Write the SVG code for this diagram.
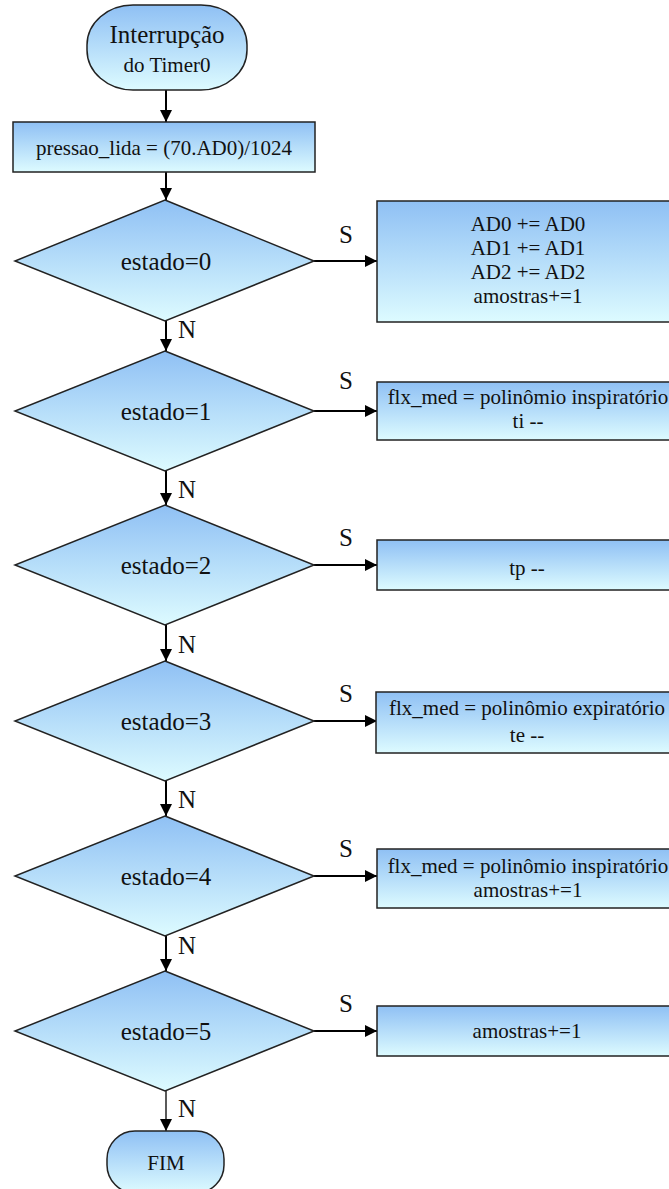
<svg xmlns="http://www.w3.org/2000/svg" width="669" height="1189" viewBox="0 0 669 1189">
  <style>
    .shape { stroke: #222; stroke-width: 1.5; fill: url(#fillGrad); }
    text { font-family: "Liberation Serif", "Times New Roman", Times, serif; fill: #111; }
    .big { font-size: 25px; }
    .small { font-size: 21px; }
    .wire { stroke: #000; stroke-width: 2; fill: none; marker-end: url(#arrow); }
  </style>
  <defs>
    <linearGradient id="fillGrad" x1="0" y1="0" x2="0" y2="1">
      <stop offset="0" stop-color="#8fc0f4"/>
      <stop offset="1" stop-color="#ddfbff"/>
    </linearGradient>
    <marker id="arrow" markerUnits="userSpaceOnUse" markerWidth="12" markerHeight="12" viewBox="0 0 12 12" refX="12" refY="6" orient="auto">
      <path d="M0,0 L12,6 L0,12 Z" fill="#000"/>
    </marker>
  </defs>

  <!-- flow connectors -->
  <g id="connectors">
    <line class="wire" x1="166" y1="90" x2="166" y2="122"/>
    <line class="wire" x1="166" y1="172" x2="166" y2="200"/>
    <line class="wire" x1="166" y1="321" x2="166" y2="351"/>
    <line class="wire" x1="166" y1="471" x2="166" y2="505"/>
    <line class="wire" x1="166" y1="625" x2="166" y2="661"/>
    <line class="wire" x1="166" y1="781" x2="166" y2="816"/>
    <line class="wire" x1="166" y1="936" x2="166" y2="971"/>
    <line class="wire" x1="166" y1="1091" x2="166" y2="1131" style="stroke-width:1.3"/>

    <line class="wire" x1="314" y1="261" x2="377" y2="261"/>
    <line class="wire" x1="314" y1="411" x2="377" y2="411"/>
    <line class="wire" x1="314" y1="565" x2="377" y2="565"/>
    <line class="wire" x1="314" y1="721" x2="377" y2="721"/>
    <line class="wire" x1="314" y1="876" x2="377" y2="876"/>
    <line class="wire" x1="314" y1="1031" x2="377" y2="1031"/>

    <g class="big">
      <text x="339" y="243">S</text>
      <text x="339" y="389">S</text>
      <text x="339" y="546">S</text>
      <text x="339" y="702">S</text>
      <text x="339" y="857">S</text>
      <text x="339" y="1012">S</text>

      <text x="178" y="338">N</text>
      <text x="178" y="498">N</text>
      <text x="178" y="653">N</text>
      <text x="178" y="808">N</text>
      <text x="178" y="954">N</text>
      <text x="178" y="1117">N</text>
    </g>
  </g>

  <g text-anchor="middle">
    <g id="start">
      <rect class="shape" x="87" y="5" width="160" height="85" rx="46" ry="40"/>
      <text class="big" x="167" y="43">Interrupção</text>
      <text class="small" x="167" y="72">do Timer0</text>
    </g>

    <g id="read-pressure">
      <rect class="shape" x="13" y="122" width="302" height="50"/>
      <text class="small" x="164" y="155">pressao_lida = (70.AD0)/1024</text>
    </g>

    <g id="dec0">
      <polygon class="shape" points="165,200 314,261 165,321 15,261"/>
      <text class="big" x="166" y="270">estado=0</text>
    </g>
    <g id="act0">
      <rect class="shape" x="377" y="201" width="302" height="121"/>
      <text class="small" x="528" y="231">AD0 += AD0</text>
      <text class="small" x="528" y="255">AD1 += AD1</text>
      <text class="small" x="528" y="279">AD2 += AD2</text>
      <text class="small" x="528" y="303">amostras+=1</text>
    </g>

    <g id="dec1">
      <polygon class="shape" points="165,351 314,411 165,471 15,411"/>
      <text class="big" x="166" y="420">estado=1</text>
    </g>
    <g id="act1">
      <rect class="shape" x="377" y="382" width="302" height="58"/>
      <text class="small" x="528" y="404">flx_med = polinômio inspiratório</text>
      <text class="small" x="528" y="428">ti --</text>
    </g>

    <g id="dec2">
      <polygon class="shape" points="165,505 314,565 165,625 15,565"/>
      <text class="big" x="166" y="574">estado=2</text>
    </g>
    <g id="act2">
      <rect class="shape" x="377" y="540" width="302" height="50"/>
      <text class="small" x="527" y="575">tp --</text>
    </g>

    <g id="dec3">
      <polygon class="shape" points="165,661 314,721 165,781 15,721"/>
      <text class="big" x="166" y="730">estado=3</text>
    </g>
    <g id="act3">
      <rect class="shape" x="376" y="692" width="303" height="61"/>
      <text class="small" x="527" y="715">flx_med = polinômio expiratório</text>
      <text class="small" x="527" y="742">te --</text>
    </g>

    <g id="dec4">
      <polygon class="shape" points="165,816 314,876 165,936 15,876"/>
      <text class="big" x="166" y="885">estado=4</text>
    </g>
    <g id="act4">
      <rect class="shape" x="377" y="849" width="302" height="59"/>
      <text class="small" x="528" y="873">flx_med = polinômio inspiratório</text>
      <text class="small" x="528" y="897">amostras+=1</text>
    </g>

    <g id="dec5">
      <polygon class="shape" points="165,971 314,1031 165,1091 15,1031"/>
      <text class="big" x="166" y="1040">estado=5</text>
    </g>
    <g id="act5">
      <rect class="shape" x="377" y="1006" width="302" height="50"/>
      <text class="small" x="527" y="1038">amostras+=1</text>
    </g>

    <g id="end">
      <rect class="shape" x="107" y="1131" width="117" height="62" rx="28" ry="28"/>
      <text class="small" x="166" y="1170">FIM</text>
    </g>
  </g>
</svg>
